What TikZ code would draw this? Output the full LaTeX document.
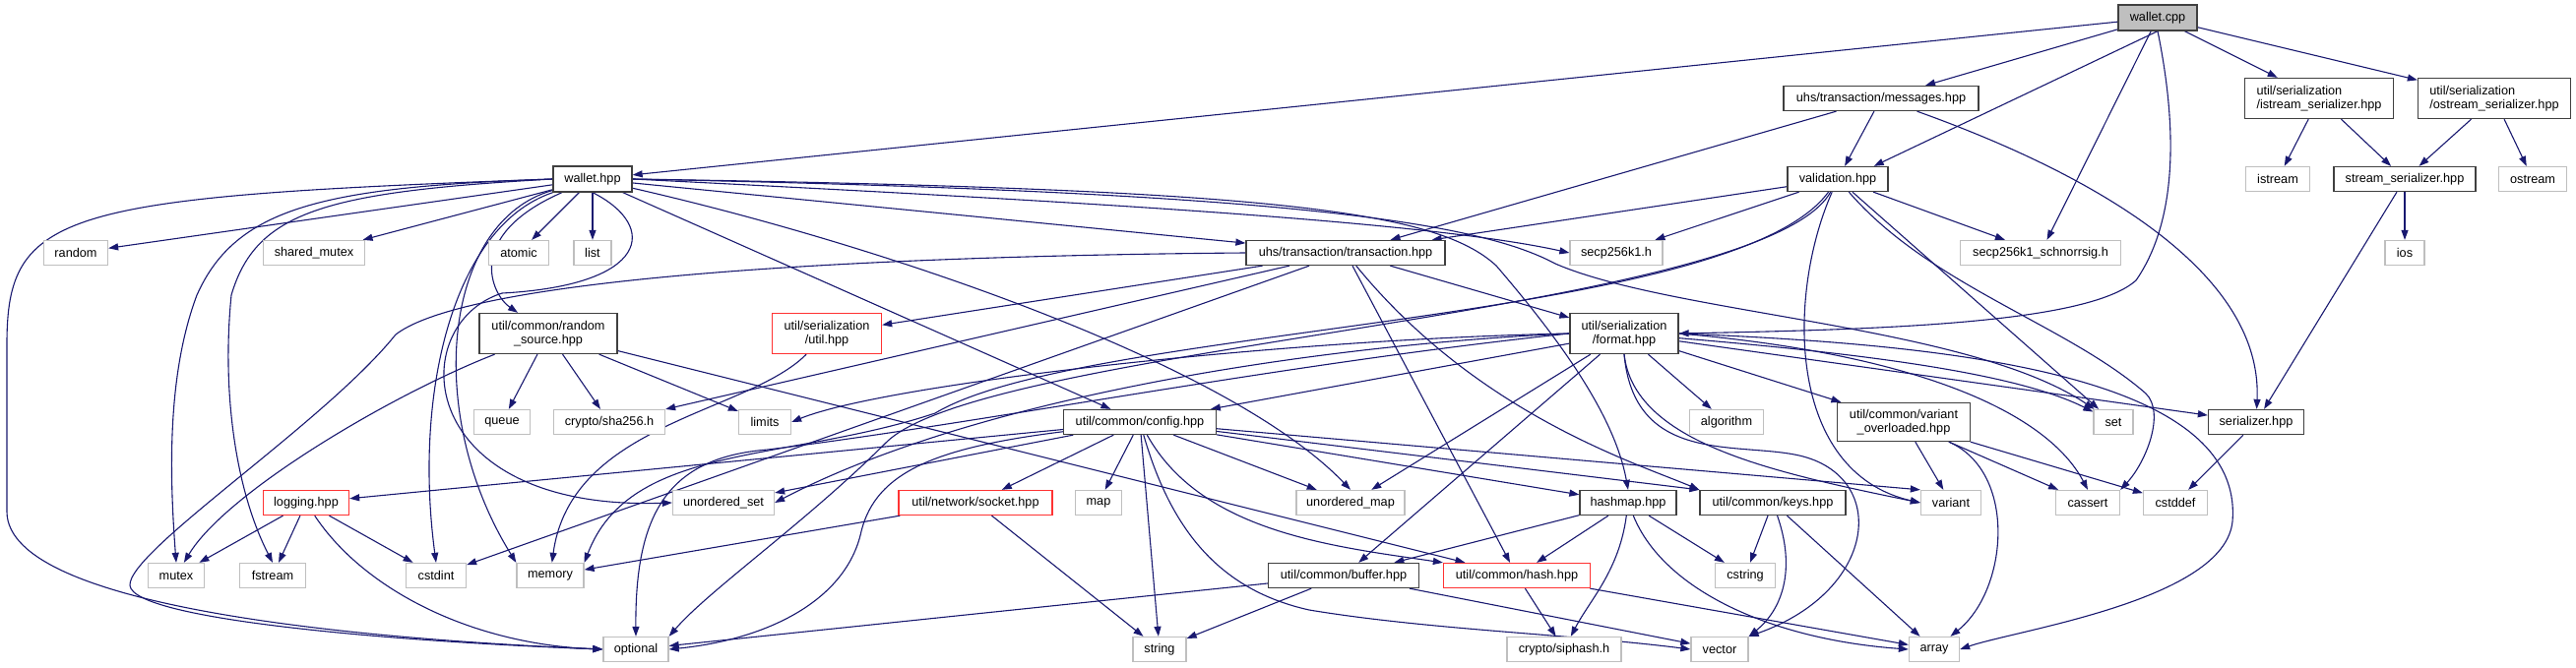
\documentclass[tikz,border=0pt]{standalone}
\usepackage{fontspec}
\setmainfont{Liberation Sans}
\usetikzlibrary{arrows.meta,backgrounds}
\definecolor{edgecol}{HTML}{191970}
\definecolor{extgray}{HTML}{BFBFBF}
\definecolor{rootfill}{HTML}{BFBFBF}
\definecolor{trunc}{HTML}{FF3333}
\definecolor{docline}{HTML}{404040}
\tikzset{
 nbase/.style={rectangle, inner xsep=0pt, inner ysep=1pt, minimum height=25pt, font=\fontsize{12.7}{14.5}\selectfont, text=black, fill=white, line width=1.3pt},
 doc/.style={nbase, draw=docline},
 ext/.style={nbase, draw=extgray},
 trn/.style={nbase, draw=trunc},
 root/.style={nbase, draw=docline, fill=rootfill},
 dep/.style={draw=edgecol, line width=1.1pt, -{Triangle[length=10pt,width=7pt]}},
}
\begin{document}
\begin{tikzpicture}[x=1pt,y=-1pt]
\useasboundingbox (0,0) rectangle (2617,679);
% nodes
\node[root, minimum width=80pt, minimum height=26pt] (wcpp) at (2192,18) {wallet.cpp};
\node[doc, minimum width=80pt, minimum height=26pt] (whpp) at (602,182) {wallet.hpp};
\node[doc, minimum width=198pt] (msg) at (1911,100) {uhs/transaction/messages.hpp};
\node[doc, minimum width=102pt] (val) at (1867,182) {validation.hpp};
\node[ext, minimum width=163pt] (schn) at (2073,257) {secp256k1\_schnorrsig.h};
\node[doc, minimum width=151pt, minimum height=41pt, align=left] (iser) at (2356,100) {util/serialization\\/istream\_serializer.hpp};
\node[doc, minimum width=155pt, minimum height=41pt, align=left] (oser) at (2534,100) {util/serialization\\/ostream\_serializer.hpp};
\node[ext, minimum width=65pt] (istream) at (2314,182) {istream};
\node[doc, minimum width=144pt] (sser) at (2443,182) {stream\_serializer.hpp};
\node[ext, minimum width=69pt] (ostream) at (2573,182) {ostream};
\node[ext, minimum width=40pt] (ios) at (2443,257) {ios};
\node[ext, minimum width=65pt] (random) at (77,257) {random};
\node[ext, minimum width=103pt] (shmutex) at (319,257) {shared\_mutex};
\node[ext, minimum width=61pt] (atomic) at (527,257) {atomic};
\node[ext, minimum width=38pt] (list) at (602,257) {list};
\node[doc, minimum width=202pt] (trans) at (1367,257) {uhs/transaction/transaction.hpp};
\node[ext, minimum width=94pt] (secp) at (1642,257) {secp256k1.h};
\node[doc, minimum width=140pt, minimum height=41pt, align=center] (rsrc) at (557,339) {util/common/random\\\_source.hpp};
\node[trn, minimum width=111pt, minimum height=41pt, align=center] (sutil) at (840,339) {util/serialization\\/util.hpp};
\node[doc, minimum width=110pt, minimum height=41pt, align=center] (fmt) at (1650,339) {util/serialization\\/format.hpp};
\node[ext, minimum width=57pt] (queue) at (510,429) {queue};
\node[ext, minimum width=113pt] (sha) at (619,429) {crypto/sha256.h};
\node[ext, minimum width=53pt] (limits) at (777,429) {limits};
\node[doc, minimum width=155pt] (config) at (1158,429) {util/common/config.hpp};
\node[ext, minimum width=75pt] (algo) at (1754,429) {algorithm};
\node[doc, minimum width=135pt, minimum height=39pt, align=center] (varov) at (1934,429) {util/common/variant\\\_overloaded.hpp};
\node[ext, minimum width=40pt] (set) at (2147,429) {set};
\node[doc, minimum width=97pt] (ser) at (2292,429) {serializer.hpp};
\node[trn, minimum width=87pt] (logging) at (311,511) {logging.hpp};
\node[ext, minimum width=103pt] (uset) at (735,511) {unordered\_set};
\node[trn, minimum width=156pt] (socket) at (991,511) {util/network/socket.hpp};
\node[ext, minimum width=47pt] (map) at (1116,511) {map};
\node[ext, minimum width=110pt] (umap) at (1372,511) {unordered\_map};
\node[doc, minimum width=98pt] (hashmap) at (1654,511) {hashmap.hpp};
\node[doc, minimum width=148pt] (keys) at (1801,511) {util/common/keys.hpp};
\node[ext, minimum width=61pt] (variant) at (1982,511) {variant};
\node[ext, minimum width=65pt] (cassert) at (2121,511) {cassert};
\node[ext, minimum width=65pt] (cstddef) at (2210,511) {cstddef};
\node[ext, minimum width=57pt] (mutex) at (179,585) {mutex};
\node[ext, minimum width=67pt] (fstream) at (277,585) {fstream};
\node[ext, minimum width=61pt] (cstdint) at (443,585) {cstdint};
\node[ext, minimum width=68pt] (memory) at (559,585) {memory};
\node[doc, minimum width=153pt] (buffer) at (1365,585) {util/common/buffer.hpp};
\node[trn, minimum width=149pt] (hash) at (1541,585) {util/common/hash.hpp};
\node[ext, minimum width=61pt] (cstring) at (1773,585) {cstring};
\node[ext, minimum width=66pt] (optional) at (646,660) {optional};
\node[ext, minimum width=54pt] (string) at (1178,660) {string};
\node[ext, minimum width=116pt] (siphash) at (1589,660) {crypto/siphash.h};
\node[ext, minimum width=58pt] (vector) at (1747,660) {vector};
\node[ext, minimum width=51pt] (array) at (1965,660) {array};
% edges
\begin{scope}[on background layer]
\fill[white] (0,0) rectangle (2617,679);
% wallet.cpp
\draw[dep] (wcpp) -- (whpp);
\draw[dep] (wcpp) -- (msg);
\draw[dep] (wcpp.south) -- ([xshift=-15pt]val.north east);
\draw[dep] (wcpp) -- (schn);
\draw[dep] (wcpp.south) .. controls (2210,120) and (2215,220) .. (2170,285) .. controls (2120,330) and (1900,335) .. (fmt.east);
\draw[dep] (wcpp) -- (iser);
\draw[dep] (wcpp) -- (oser);
% messages
\draw[dep] (msg) -- (trans);
\draw[dep] (msg) -- (val);
\draw[dep] (msg) .. controls (2050,150) and (2300,250) .. (ser);
% serializers
\draw[dep] (iser) -- (istream);
\draw[dep] (iser) -- (sser);
\draw[dep] (oser) -- (sser);
\draw[dep] (oser) -- (ostream);
\draw[dep] (sser) -- (ios);
\draw[dep] (sser) -- (ser);
\draw[dep] (ser) -- (cstddef);
% validation
\draw[dep] (val) -- (trans);
\draw[dep] (val) -- (secp);
\draw[dep] (val) -- (schn);
\draw[dep] (val) -- (set);
\draw[dep] (val) .. controls (1960,290) and (2100,330) .. (2180,400) .. controls (2200,420) and (2180,470) .. (cassert.north east);
\draw[dep] (val) .. controls (1815,300) and (1815,480) .. (variant.west);
\draw[dep] (val) .. controls (1760,330) and (1100,330) .. (950,420) .. controls (800,470) and (640,450) .. (memory.north east);
\draw[dep] (val) .. controls (1790,320) and (1000,350) .. (900,450) .. controls (820,530) and (720,600) .. (optional.north east);
% wallet.hpp
\draw[dep] (whpp) -- (random);
\draw[dep] (whpp) -- (shmutex);
\draw[dep] (whpp) -- (atomic);
\draw[dep] (whpp) -- (list);
\draw[dep] (whpp) .. controls (470,240) and (500,300) .. (rsrc);
\draw[dep] (whpp) -- (trans);
\draw[dep] (whpp.east) .. controls (1100,205) and (1450,225) .. (secp.west);
\draw[dep] (whpp.east) .. controls (1300,195) and (1500,225) .. (1580,268) .. controls (1700,320) and (2000,330) .. (set);
\draw[dep] (whpp.east) .. controls (1300,192) and (1460,215) .. (1520,270) .. controls (1580,340) and (1640,420) .. (hashmap.north);
\draw[dep] (whpp) -- (config);
\draw[dep] (whpp) .. controls (900,250) and (1250,370) .. (umap.north);
\draw[dep] (whpp.west) .. controls (330,190) and (240,210) .. (200,300) .. controls (170,380) and (172,480) .. (mutex.north);
\draw[dep] (whpp.west) .. controls (330,195) and (260,215) .. (235,300) .. controls (225,400) and (240,500) .. (fstream.north);
\draw[dep] (whpp.west) .. controls (60,200) and (7,215) .. (7,350) -- (7,520) .. controls (7,620) and (380,650) .. (optional.west);
\draw[dep] (whpp) .. controls (460,230) and (420,400) .. (cstdint.north);
\draw[dep] (whpp) .. controls (450,225) and (430,420) .. (memory.north west);
\draw[dep] (whpp.south) .. controls (670,230) and (660,290) .. (510,298) .. controls (410,330) and (420,520) .. (uset.west);
% transaction
\draw[dep] (trans) -- (sutil);
\draw[dep] (trans) -- (sha);
\draw[dep] (trans) -- (fmt);
\draw[dep] (trans) -- (hash);
\draw[dep] (trans) .. controls (1500,420) and (1660,470) .. (keys.north west);
\draw[dep] (trans.west) .. controls (900,260) and (480,280) .. (402,340) .. controls (330,430) and (130,560) .. (132,595) .. controls (135,630) and (400,652) .. (optional.west);
\draw[dep] (trans) -- (cstdint);
% random_source
\draw[dep] (rsrc) -- (queue);
\draw[dep] (rsrc) -- (sha);
\draw[dep] (rsrc) -- (limits);
\draw[dep] (rsrc) .. controls (400,400) and (230,500) .. (mutex);
\draw[dep] (rsrc) -- (hash);
% util.hpp, socket
\draw[dep] (sutil) .. controls (760,420) and (580,430) .. (memory);
\draw[dep] (socket) -- (memory);
\draw[dep] (socket) -- (string);
% config
\draw[dep] (config) -- (logging);
\draw[dep] (config) -- (socket);
\draw[dep] (config) -- (map);
\draw[dep] (config) -- (string);
\draw[dep] (config) -- (umap);
\draw[dep] (config) -- (hashmap);
\draw[dep] (config) -- (keys.north west);
\draw[dep] (config) -- (variant.north west);
\draw[dep] (config) .. controls (1220,540) and (1350,555) .. (hash.north west);
\draw[dep] (config) .. controls (1190,540) and (1240,600) .. (1330,620) .. controls (1450,640) and (1600,645) .. (vector.west);
\draw[dep] (config) -- (uset);
\draw[dep] (config) .. controls (950,455) and (890,480) .. (875,540) .. controls (860,610) and (780,650) .. (optional.east);
% format
\draw[dep] (fmt) -- (config);
\draw[dep] (fmt) -- (umap);
\draw[dep] (fmt) -- (buffer);
\draw[dep] (fmt) -- (algo);
\draw[dep] (fmt) -- (varov);
\draw[dep] (fmt) -- (ser);
\draw[dep] (fmt) .. controls (1900,360) and (2050,380) .. (set);
\draw[dep] (fmt.east) .. controls (1950,360) and (2080,420) .. (cassert.north);
\draw[dep] (fmt.south) .. controls (1660,450) and (1800,480) .. (variant.west);
\draw[dep] (fmt.east) .. controls (1980,350) and (2280,380) .. (2268,530) .. controls (2260,610) and (2050,640) .. (array.east);
\draw[dep] (fmt.south) .. controls (1660,470) and (1760,450) .. (1823,462) .. controls (1920,480) and (1910,600) .. (vector.north east);
\draw[dep] (fmt.west) .. controls (1300,345) and (900,390) .. (limits.east);
\draw[dep] (fmt.west) .. controls (1350,350) and (1000,400) .. (uset.east);
\draw[dep] (fmt.west) .. controls (1300,370) and (1000,430) .. (780,457) .. controls (680,465) and (645,520) .. (optional.north);
% hashmap
\draw[dep] (hashmap) -- (buffer);
\draw[dep] (hashmap) -- (hash);
\draw[dep] (hashmap) .. controls (1645,580) and (1615,610) .. (siphash);
\draw[dep] (hashmap) -- (cstring);
\draw[dep] (hashmap) .. controls (1690,600) and (1800,650) .. (array.west);
% keys
\draw[dep] (keys) -- (cstring);
\draw[dep] (keys) .. controls (1825,580) and (1810,620) .. (vector.north east);
\draw[dep] (keys) -- (array);
% buffer, hash
\draw[dep] (buffer) -- (optional);
\draw[dep] (buffer) -- (string);
\draw[dep] (buffer) -- (vector);
\draw[dep] (hash) -- (siphash);
\draw[dep] (hash) -- (array);
% variant_overloaded
\draw[dep] (varov) -- (variant);
\draw[dep] (varov) -- (cassert);
\draw[dep] (varov) -- (cstddef);
\draw[dep] (varov) .. controls (2050,480) and (2040,600) .. (array);
% logging
\draw[dep] (logging) -- (mutex);
\draw[dep] (logging) -- (fstream);
\draw[dep] (logging) -- (cstdint);
\draw[dep] (logging) .. controls (370,600) and (480,655) .. (optional.west);
\end{scope}
\end{tikzpicture}
\end{document}
